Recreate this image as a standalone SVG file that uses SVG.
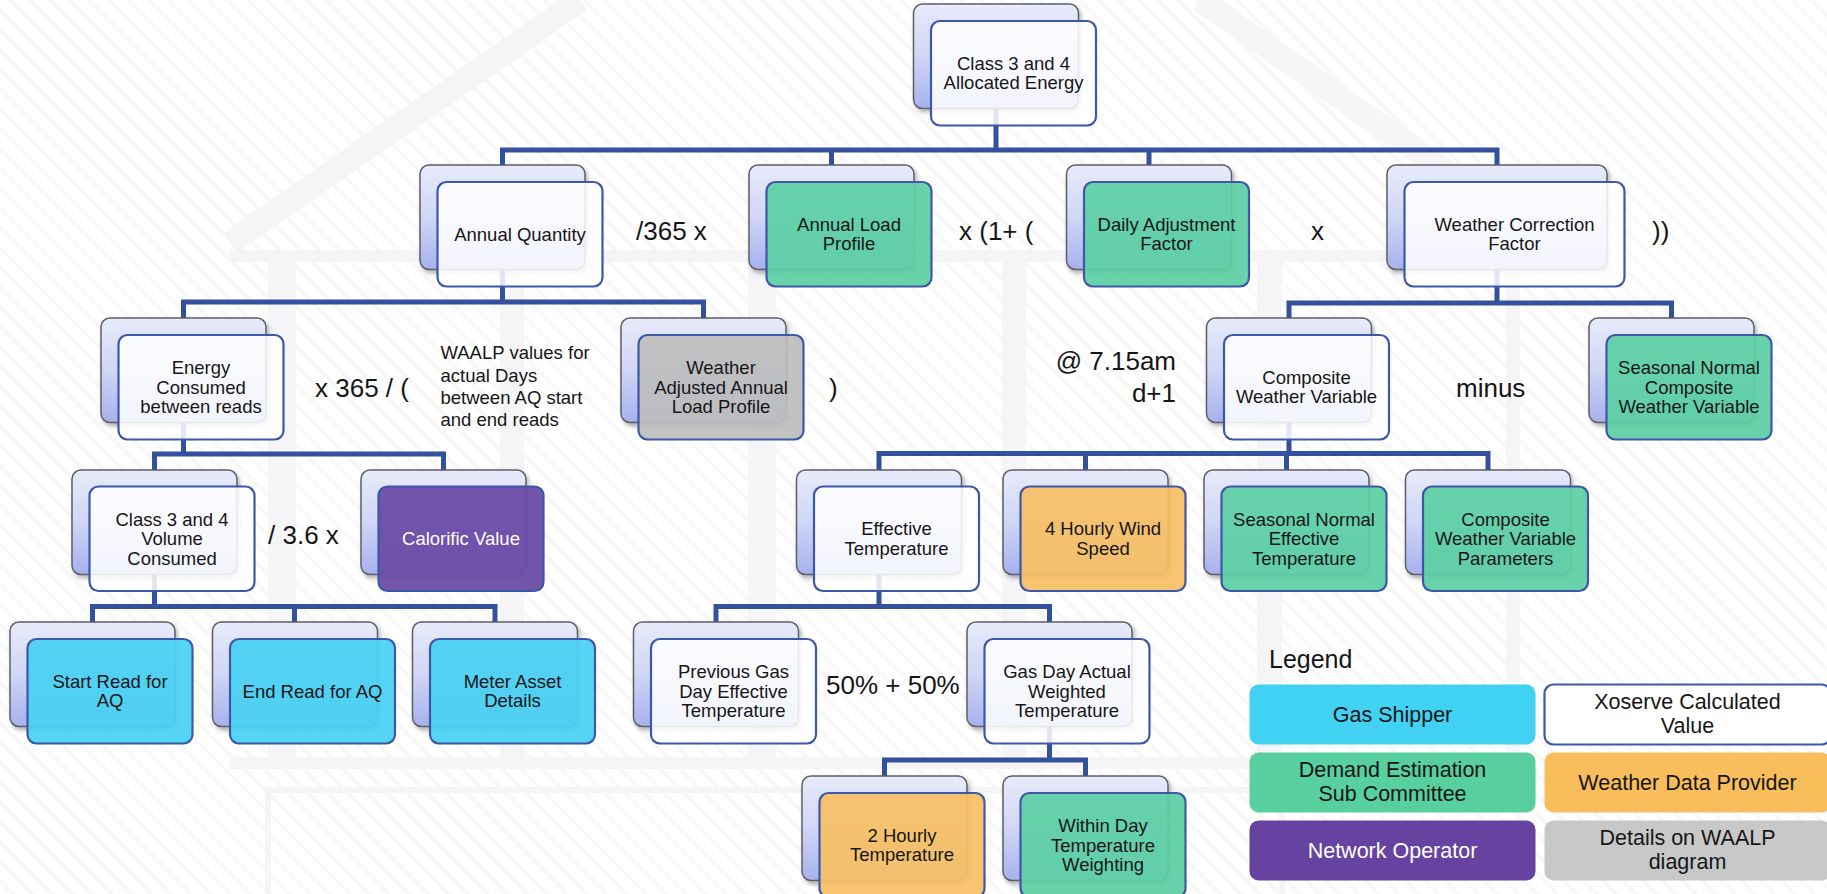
<svg xmlns="http://www.w3.org/2000/svg" width="1827" height="894" viewBox="0 0 1827 894">
<defs>
<linearGradient id="gb" x1="0" y1="0" x2="0" y2="1">
<stop offset="0" stop-color="#E8EBFA"/><stop offset="0.5" stop-color="#D0D6F6"/><stop offset="1" stop-color="#A6B1EE"/>
</linearGradient>
<filter id="sh" x="-10%" y="-10%" width="130%" height="130%">
<feDropShadow dx="2" dy="3" stdDeviation="2" flood-color="#000" flood-opacity="0.3"/>
</filter>
<pattern id="st" width="14" height="14" patternUnits="userSpaceOnUse" patternTransform="rotate(45)">
<line x1="0" y1="7" x2="14" y2="7" stroke="#F8F8F9" stroke-width="4"/>
</pattern>
</defs>
<style>
text{font-family:"Liberation Sans",Arial,sans-serif;fill:#161616}
.t{font-size:18.5px;text-anchor:middle}
.tw{fill:#fff}
.op{font-size:26px}
.bk{fill:url(#gb);stroke:#5E5E66;stroke-width:1.5;filter:url(#sh)}
.fr{stroke:#3D58A8;stroke-width:2.2}
.w{fill:#fff;fill-opacity:.86}
.g{fill:#5DD0A5;fill-opacity:.93}
.c{fill:#48D1F3;fill-opacity:.93}
.p{fill:#6C4CA7;fill-opacity:.95}
.o{fill:#F7BF64;fill-opacity:.93}
.s{fill:#BDBDBD;fill-opacity:.93}
.con{fill:none;stroke:#34519D;stroke-width:5;stroke-linejoin:miter}
.lg{font-size:21.5px;text-anchor:middle}
.wm{fill:#F5F5F7}
</style>

<g id="background">
<rect x="0" y="0" width="1827" height="894" fill="#fff"/>
<rect x="0" y="0" width="1827" height="894" fill="url(#st)"/>
<path d="M230 243 L580 0" stroke="#F5F5F7" stroke-width="24" fill="none"/>
<path d="M1200 0 L1550 243" stroke="#F6F6F8" stroke-width="24" fill="none"/>
<rect class="wm" x="230" y="250" width="1320" height="12"/>
<rect class="wm" x="268" y="262" width="28" height="495"/>
<rect class="wm" x="500" y="262" width="24" height="495"/>
<rect class="wm" x="748" y="262" width="28" height="495"/>
<rect class="wm" x="1002" y="262" width="24" height="495"/>
<rect class="wm" x="1257" y="262" width="25" height="495"/>
<rect class="wm" x="1506" y="262" width="14" height="495"/>
<rect class="wm" x="230" y="757" width="1060" height="12"/>
<rect x="268" y="790" width="1014" height="110" fill="none" stroke="#F5F5F7" stroke-width="6"/>
</g>

<g id="connectors">
<path class="con" d="M996 60 V150"/>
<path class="con" d="M502.5 165 V150 H1497 V165 M831.5 150 V165 M1149 150 V165"/>
<path class="con" d="M502.5 220 V302 M183.5 318 V302 H703.5 V318"/>
<path class="con" d="M1497 220 V303 M1289 319 V303 H1671.5 V319"/>
<path class="con" d="M183.5 380 V454 M154.5 470 V454 H443.5 V470"/>
<path class="con" d="M1289 380 V453.5 M879 470 V453.5 H1488 V470 M1085.5 453.5 V470 M1286.5 453.5 V470"/>
<path class="con" d="M154.5 530 V606.5 M92.5 622 V606.5 H495 V622 M294.5 606.5 V622"/>
<path class="con" d="M879 530 V606.5 M716 622 V606.5 H1049.5 V622"/>
<path class="con" d="M1049.5 680 V760 M884.5 776 V760 H1085.5 V776"/>
</g>

<g id="n-top"><rect class="bk" x="913.5" y="4" width="165" height="104.5" rx="9"/><rect class="fr w" x="931" y="21" width="165" height="104.5" rx="9"/>
<text class="t"><tspan x="1013.5" y="69.8">Class 3 and 4</tspan><tspan x="1013.5" y="89.3">Allocated Energy</tspan></text></g>

<g id="n-aq"><rect class="bk" x="420" y="165" width="165" height="104.5" rx="9"/><rect class="fr w" x="437.5" y="182" width="165" height="104.5" rx="9"/>
<text class="t" x="520" y="240.5">Annual Quantity</text></g>

<g id="n-alp"><rect class="bk" x="749" y="165" width="165" height="104.5" rx="9"/><rect class="fr g" x="766.5" y="182" width="165" height="104.5" rx="9"/>
<text class="t"><tspan x="849" y="230.8">Annual Load</tspan><tspan x="849" y="250.3">Profile</tspan></text></g>

<g id="n-daf"><rect class="bk" x="1066.5" y="165" width="165" height="104.5" rx="9"/><rect class="fr g" x="1084" y="182" width="165" height="104.5" rx="9"/>
<text class="t"><tspan x="1166.5" y="230.8">Daily Adjustment</tspan><tspan x="1166.5" y="250.3">Factor</tspan></text></g>

<g id="n-wcf"><rect class="bk" x="1387" y="165" width="220" height="104.5" rx="9"/><rect class="fr w" x="1404.5" y="182" width="220" height="104.5" rx="9"/>
<text class="t"><tspan x="1514.5" y="230.8">Weather Correction</tspan><tspan x="1514.5" y="250.3">Factor</tspan></text></g>

<g id="n-ecr"><rect class="bk" x="101" y="318" width="165" height="104.5" rx="9"/><rect class="fr w" x="118.5" y="335" width="165" height="104.5" rx="9"/>
<text class="t"><tspan x="201" y="374">Energy</tspan><tspan x="201" y="393.5">Consumed</tspan><tspan x="201" y="413">between reads</tspan></text></g>

<g id="n-waalp"><rect class="bk" x="621" y="318" width="165" height="104.5" rx="9"/><rect class="fr s" x="638.5" y="335" width="165" height="104.5" rx="9"/>
<text class="t"><tspan x="721" y="374">Weather</tspan><tspan x="721" y="393.5">Adjusted Annual</tspan><tspan x="721" y="413">Load Profile</tspan></text></g>

<g id="n-cwv"><rect class="bk" x="1206.5" y="318" width="165" height="104.5" rx="9"/><rect class="fr w" x="1224" y="335" width="165" height="104.5" rx="9"/>
<text class="t"><tspan x="1306.5" y="383.8">Composite</tspan><tspan x="1306.5" y="403.3">Weather Variable</tspan></text></g>

<g id="n-sncwv"><rect class="bk" x="1589" y="318" width="165" height="104.5" rx="9"/><rect class="fr g" x="1606.5" y="335" width="165" height="104.5" rx="9"/>
<text class="t"><tspan x="1689" y="374">Seasonal Normal</tspan><tspan x="1689" y="393.5">Composite</tspan><tspan x="1689" y="413">Weather Variable</tspan></text></g>

<g id="n-c34v"><rect class="bk" x="72" y="470" width="165" height="104.5" rx="9"/><rect class="fr w" x="89.5" y="486.5" width="165" height="104.5" rx="9"/>
<text class="t"><tspan x="172" y="525.5">Class 3 and 4</tspan><tspan x="172" y="545">Volume</tspan><tspan x="172" y="564.5">Consumed</tspan></text></g>

<g id="n-cv"><rect class="bk" x="361" y="470" width="165" height="104.5" rx="9"/><rect class="fr p" x="378.5" y="486.5" width="165" height="104.5" rx="9"/>
<text class="t tw" x="461" y="545">Calorific Value</text></g>

<g id="n-et"><rect class="bk" x="796.5" y="470" width="165" height="104.5" rx="9"/><rect class="fr w" x="814" y="486.5" width="165" height="104.5" rx="9"/>
<text class="t"><tspan x="896.5" y="535.3">Effective</tspan><tspan x="896.5" y="554.8">Temperature</tspan></text></g>

<g id="n-4hw"><rect class="bk" x="1003" y="470" width="165" height="104.5" rx="9"/><rect class="fr o" x="1020.5" y="486.5" width="165" height="104.5" rx="9"/>
<text class="t"><tspan x="1103" y="535.3">4 Hourly Wind</tspan><tspan x="1103" y="554.8">Speed</tspan></text></g>

<g id="n-snet"><rect class="bk" x="1204" y="470" width="165" height="104.5" rx="9"/><rect class="fr g" x="1221.5" y="486.5" width="165" height="104.5" rx="9"/>
<text class="t"><tspan x="1304" y="525.5">Seasonal Normal</tspan><tspan x="1304" y="545">Effective</tspan><tspan x="1304" y="564.5">Temperature</tspan></text></g>

<g id="n-cwvp"><rect class="bk" x="1405.5" y="470" width="165" height="104.5" rx="9"/><rect class="fr g" x="1423" y="486.5" width="165" height="104.5" rx="9"/>
<text class="t"><tspan x="1505.5" y="525.5">Composite</tspan><tspan x="1505.5" y="545">Weather Variable</tspan><tspan x="1505.5" y="564.5">Parameters</tspan></text></g>

<g id="n-sr"><rect class="bk" x="10" y="622" width="165" height="104.5" rx="9"/><rect class="fr c" x="27.5" y="639" width="165" height="104.5" rx="9"/>
<text class="t"><tspan x="110" y="687.8">Start Read for</tspan><tspan x="110" y="707.3">AQ</tspan></text></g>

<g id="n-er"><rect class="bk" x="212.5" y="622" width="165" height="104.5" rx="9"/><rect class="fr c" x="230" y="639" width="165" height="104.5" rx="9"/>
<text class="t" x="312.5" y="697.5">End Read for AQ</text></g>

<g id="n-ma"><rect class="bk" x="412.5" y="622" width="165" height="104.5" rx="9"/><rect class="fr c" x="430" y="639" width="165" height="104.5" rx="9"/>
<text class="t"><tspan x="512.5" y="687.8">Meter Asset</tspan><tspan x="512.5" y="707.3">Details</tspan></text></g>

<g id="n-pgd"><rect class="bk" x="633.5" y="622" width="165" height="104.5" rx="9"/><rect class="fr w" x="651" y="639" width="165" height="104.5" rx="9"/>
<text class="t"><tspan x="733.5" y="678">Previous Gas</tspan><tspan x="733.5" y="697.5">Day Effective</tspan><tspan x="733.5" y="717">Temperature</tspan></text></g>

<g id="n-gda"><rect class="bk" x="967" y="622" width="165" height="104.5" rx="9"/><rect class="fr w" x="984.5" y="639" width="165" height="104.5" rx="9"/>
<text class="t"><tspan x="1067" y="678">Gas Day Actual</tspan><tspan x="1067" y="697.5">Weighted</tspan><tspan x="1067" y="717">Temperature</tspan></text></g>

<g id="n-2h"><rect class="bk" x="802" y="776" width="165" height="104.5" rx="9"/><rect class="fr o" x="819.5" y="793" width="165" height="104.5" rx="9"/>
<text class="t"><tspan x="902" y="841.8">2 Hourly</tspan><tspan x="902" y="861.3">Temperature</tspan></text></g>

<g id="n-wdt"><rect class="bk" x="1003" y="776" width="165" height="104.5" rx="9"/><rect class="fr g" x="1020.5" y="793" width="165" height="104.5" rx="9"/>
<text class="t"><tspan x="1103" y="832">Within Day</tspan><tspan x="1103" y="851.5">Temperature</tspan><tspan x="1103" y="871">Weighting</tspan></text></g>

<g id="operators">
<text class="op" x="636" y="240">/365 x</text>
<text class="op" x="959" y="240">x (1+ (</text>
<text class="op" x="1311" y="240">x</text>
<text class="op" x="1652" y="240">))</text>
<text class="op" x="315" y="397">x 365 / (</text>
<text class="op" x="829" y="397">)</text>
<text class="op" x="1176" y="370" text-anchor="end">@ 7.15am</text>
<text class="op" x="1176" y="402" text-anchor="end">d+1</text>
<text class="op" x="1456" y="397">minus</text>
<text class="op" x="268" y="544">/ 3.6 x</text>
<text class="op" x="826" y="694">50% + 50%</text>
<text style="font-size:18.5px"><tspan x="440.5" y="359.3">WAALP values for</tspan><tspan x="440.5" y="381.7">actual Days</tspan><tspan x="440.5" y="404">between AQ start</tspan><tspan x="440.5" y="426.3">and end reads</tspan></text>
</g>

<g id="legend">
<text x="1269" y="668" style="font-size:25px">Legend</text>
<rect x="1249.5" y="684.5" width="286" height="60" rx="9" fill="#41D1F2"/>
<text class="lg" x="1392.5" y="722">Gas Shipper</text>
<rect x="1544.5" y="684.5" width="286" height="60" rx="9" fill="#fff" stroke="#3D58A8" stroke-width="2.2"/>
<text class="lg"><tspan x="1687.5" y="709">Xoserve Calculated</tspan><tspan x="1687.5" y="733.3">Value</tspan></text>
<rect x="1249.5" y="752.5" width="286" height="60" rx="9" fill="#57CF9F"/>
<text class="lg"><tspan x="1392.5" y="777">Demand Estimation</tspan><tspan x="1392.5" y="801.3">Sub Committee</tspan></text>
<rect x="1544.5" y="752.5" width="286" height="60" rx="9" fill="#F9BD5B"/>
<text class="lg" x="1687.5" y="790">Weather Data Provider</text>
<rect x="1249.5" y="820.5" width="286" height="60" rx="9" fill="#6743A1"/>
<text class="lg tw" x="1392.5" y="858">Network Operator</text>
<rect x="1544.5" y="820.5" width="286" height="60" rx="9" fill="#C8C8C8"/>
<text class="lg"><tspan x="1687.5" y="845">Details on WAALP</tspan><tspan x="1687.5" y="869.3">diagram</tspan></text>
</g>
</svg>
